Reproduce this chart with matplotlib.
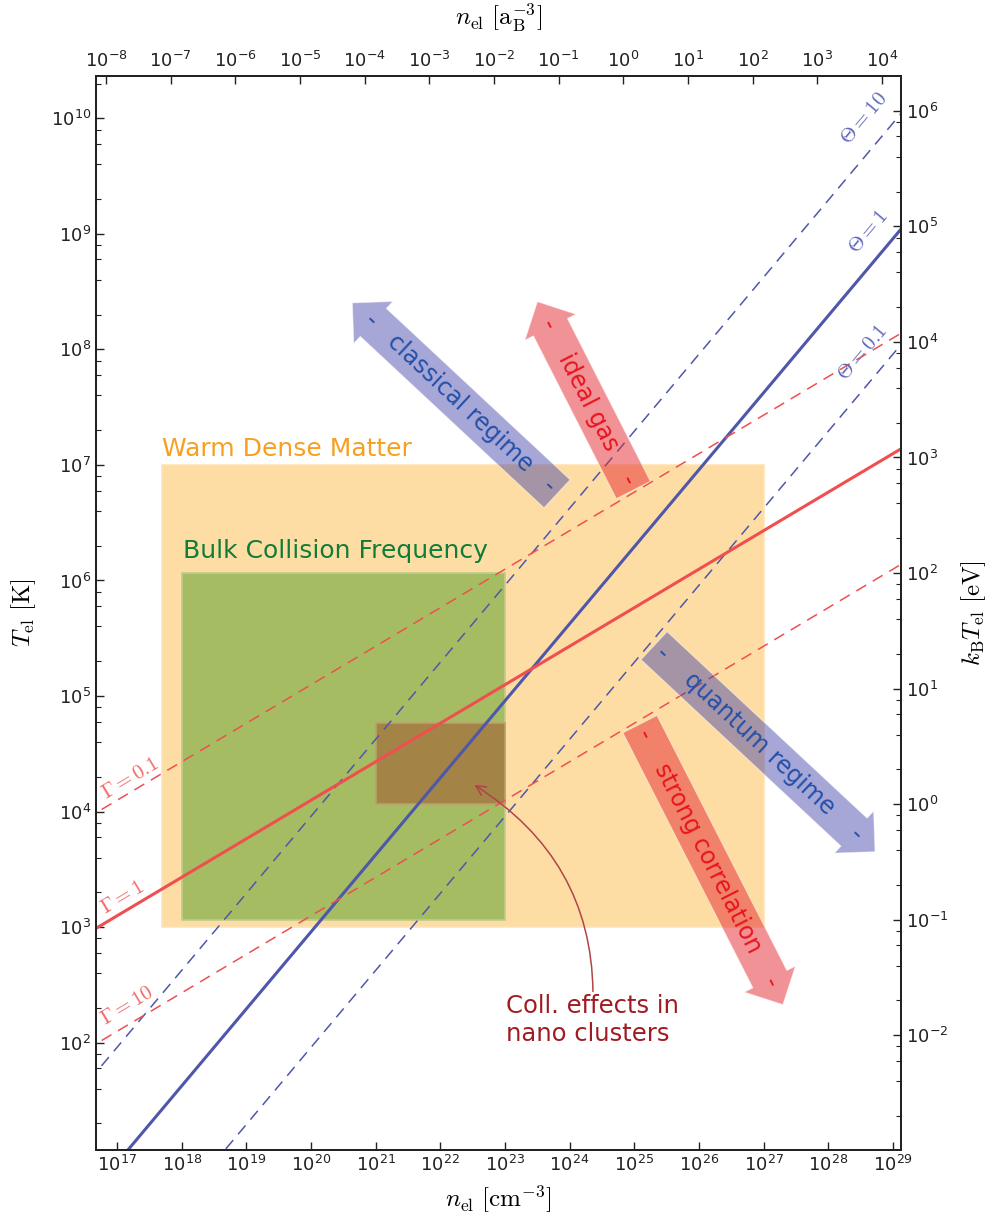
import matplotlib
matplotlib.use('Agg')
import matplotlib.pyplot as plt
from matplotlib.patches import Rectangle
from matplotlib.ticker import LogLocator, NullLocator

plt.rcParams['font.family'] = ['DejaVu Sans']
plt.rcParams['mathtext.fontset'] = 'cm'
plt.rcParams['axes.unicode_minus'] = False

# ---------------- data ----------------
K_PER_EV = 11604.5          # K per eV
AB3_CM3 = 1.4818e-25        # Bohr volume in cm^3

n_line = [1e16, 1e30]                   # cm^-3
T_theta_01 = [0.196, 4.22e8]            # K
T_theta_1 = [1.96, 4.22e9]
T_theta_10 = [19.6, 4.22e10]
T_gamma_01 = [5810.0, 2.70e8]
T_gamma_1 = [581.0, 2.70e7]
T_gamma_10 = [58.1, 2.70e6]

region_n = [(5e17, 1e27), (1e18, 1e23), (1e21, 1e23)]
region_T = [(1e3, 1e7), (1160.0, 1.16e6), (1.16e4, 5.8e4)]
region_fc = ['#fedda5', '#a5bc62', '#a38446']
region_ec = ['#fee3b5', '#bccd8c', '#b9a070']

theta_labels = [r'$\Theta=10$', r'$\Theta=1$', r'$\Theta=0.1$']
theta_label_n = [3.56e28, 4.10e28, 3.31e28]
theta_label_T = [1.0e10, 1.04e9, 9.5e7]

gamma_labels = [r'$\Gamma=0.1$', r'$\Gamma=1$', r'$\Gamma=10$']
gamma_label_n = [1.59e17, 1.19e17, 1.43e17]
gamma_label_T = [1.95e4, 1.82e3, 2.1e2]

arrow_texts = ['-   classical regime   -', '-    ideal gas    -',
               '-    quantum regime    -', '-    strong correlation    -']
arrow_n = [2.0e22, 1.96e24, 8.6e26, 1.39e26]
arrow_T = [3.43e7, 3.50e7, 3.85e4, 3.95e3]
arrow_angle = [-43, -63, -43, -63]
arrow_style = ['larrow', 'larrow', 'rarrow', 'rarrow']
arrow_fc = ['#3a3aa8', '#e5292f', '#3a3aa8', '#e5292f']
arrow_alpha = [0.45, 0.5, 0.45, 0.5]
arrow_tc = ['#2450a8', '#e8141e', '#2450a8', '#e8141e']

# ---------------- figure ----------------
fig = plt.figure(figsize=(9.85, 12.21), dpi=100)
ax = fig.add_axes([0.0975, 0.0581, 0.8172, 0.8794])
ax.set_xscale('log')
ax.set_yscale('log')
xlim = (4.73e16, 1.33e29)
ylim = (11.75, 2.31e10)
ax.set_xlim(*xlim)
ax.set_ylim(*ylim)

for (n0, n1), (t0, t1), fc, ec in zip(region_n, region_T, region_fc, region_ec):
    ax.add_patch(Rectangle((n0, t0), n1 - n0, t1 - t0, fc=fc, ec=ec, lw=1.2, zorder=1))

ax.text(5e17, 1.2e7, 'Warm Dense Matter', color='#f7a01f', fontsize=18,
        ha='left', va='baseline', zorder=3)
ax.text(1.03e18, 1.556e6, 'Bulk Collision Frequency', color='#0f7d38', fontsize=18,
        ha='left', va='baseline', zorder=3)

blue = '#4f57aa'
red = '#ef4f4f'
dash = (7.5, 5)
ax.plot(n_line, T_theta_1, color=blue, lw=2.2, zorder=2)
ax.plot(n_line, T_theta_01, color=blue, lw=1.1, dashes=dash, zorder=2)
ax.plot(n_line, T_theta_10, color=blue, lw=1.1, dashes=dash, zorder=2)
ax.plot(n_line, T_gamma_1, color=red, lw=2.2, zorder=2)
ax.plot(n_line, T_gamma_01, color=red, lw=1.1, dashes=dash, zorder=2)
ax.plot(n_line, T_gamma_10, color=red, lw=1.1, dashes=dash, zorder=2)

for s, x, y in zip(theta_labels, theta_label_n, theta_label_T):
    ax.text(x, y, s, color='#6068b8', fontsize=15, rotation=50,
            ha='center', va='center', rotation_mode='anchor', zorder=3)
for s, x, y in zip(gamma_labels, gamma_label_n, gamma_label_T):
    ax.text(x, y, s, color='#f06a6a', fontsize=15, rotation=31,
            ha='center', va='center', rotation_mode='anchor', zorder=3)

for s, x, y, ang, st, fc, al, tc in zip(arrow_texts, arrow_n, arrow_T, arrow_angle,
                                        arrow_style, arrow_fc, arrow_alpha, arrow_tc):
    ax.text(x, y, s, rotation=ang, rotation_mode='anchor', ha='center', va='center',
            fontsize=17, color=tc, zorder=6,
            bbox=dict(boxstyle=st + ',pad=0.3', fc=fc, ec='white', lw=0.7, alpha=al))

ax.annotate('Coll. effects in\nnano clusters', xy=(3.35e22, 1.7e4),
            xytext=(1.02e23, 262), textcoords='data', ha='left', va='top',
            fontsize=17.5, color='#a01c22', zorder=6,
            arrowprops=dict(arrowstyle='->', color='#b04448', lw=1.1,
                            connectionstyle='arc3,rad=0.3', shrinkA=0, shrinkB=0))

ax.set_xlabel(r'$n_\mathrm{el}\ [\mathrm{cm^{-3}}]$', fontsize=18, labelpad=6)
ax.set_ylabel(r'$T_\mathrm{el}\ [\mathrm{K}]$', fontsize=18, labelpad=9)

axt = ax.twiny()
axt.set_xscale('log')
axt.set_xlim(xlim[0] * AB3_CM3, xlim[1] * AB3_CM3)
axt.set_xlabel(r'$n_\mathrm{el}\ [\mathrm{a_B^{-3}}]$', fontsize=18, labelpad=19)

axr = ax.twinx()
axr.set_yscale('log')
axr.set_ylim(ylim[0] / K_PER_EV, ylim[1] / K_PER_EV)
axr.set_ylabel(r'$k_\mathrm{B}T_\mathrm{el}\ [\mathrm{eV}]$', fontsize=18, labelpad=8)

for a in (ax.xaxis, axt.xaxis):
    a.set_major_locator(LogLocator(base=10, numticks=60))
    a.set_minor_locator(NullLocator())
for a in (ax.yaxis, axr.yaxis):
    a.set_major_locator(LogLocator(base=10, numticks=60))
    a.set_minor_locator(LogLocator(base=10, subs=(2, 4, 6, 8), numticks=60))

for a in (ax, axt, axr):
    a.tick_params(which='both', direction='in', labelsize=13, colors='#222222')
    a.tick_params(which='major', length=6, width=1)
    a.tick_params(which='minor', length=3.5, width=0.8)
    for sp in a.spines.values():
        sp.set_linewidth(1.3)
        sp.set_color('#222222')
ax.tick_params(which='both', top=False, right=False, left=True)

fig.savefig('out.png', dpi=100)
